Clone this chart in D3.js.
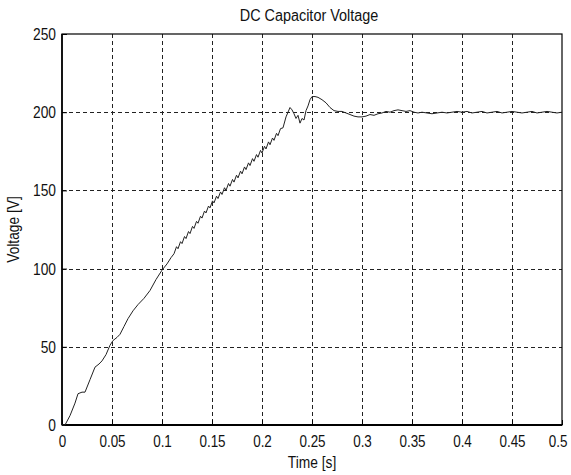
<!DOCTYPE html>
<html>
<head>
<meta charset="utf-8">
<script src="https://cdn.jsdelivr.net/npm/d3@7"></script>
<style>
  html, body { margin: 0; padding: 0; background: #ffffff; }
  svg { display: block; }
  text { font-family: "Liberation Sans", Arial, sans-serif; fill: #111; }
</style>
</head>
<body>
<svg id="chart" width="571" height="475"></svg>
<script>
const chartTitle = "DC Capacitor Voltage";
const xLabel = "Time [s]";
const yLabel = "Voltage [V]";
const xTicks = [0, 0.05, 0.1, 0.15, 0.2, 0.25, 0.3, 0.35, 0.4, 0.45, 0.5];
const yTicks = [0, 50, 100, 150, 200, 250];

const timeS = [
  0, 0.003, 0.008, 0.013, 0.016, 0.020, 0.023, 0.028, 0.033, 0.037, 0.040, 0.044, 0.048, 0.051, 0.055,
  0.058, 0.062, 0.066, 0.071, 0.076, 0.082, 0.088, 0.094, 0.100, 0.105, 0.109,
  0.112, 0.1145, 0.116, 0.1185, 0.120, 0.1225, 0.124, 0.1265, 0.128, 0.1305, 0.132, 0.1345,
  0.136, 0.1385, 0.140, 0.1425, 0.144, 0.1465, 0.148, 0.1505, 0.152, 0.1545, 0.156, 0.1585,
  0.160, 0.1625, 0.164, 0.1665, 0.168, 0.1705, 0.172, 0.1745, 0.176, 0.1785, 0.180, 0.1825,
  0.184, 0.1865, 0.188, 0.1905, 0.192, 0.1945, 0.196, 0.1985, 0.200, 0.2025, 0.204, 0.2065,
  0.208, 0.2105, 0.212, 0.2145, 0.216, 0.2185,
  0.221, 0.224, 0.226, 0.228, 0.230, 0.232, 0.234, 0.236, 0.238, 0.240, 0.242, 0.244, 0.246, 0.248,
  0.250, 0.253, 0.256, 0.260, 0.264, 0.268, 0.272, 0.276, 0.280, 0.284, 0.288, 0.292, 0.296, 0.300,
  0.304, 0.308, 0.312, 0.316, 0.320, 0.324, 0.328, 0.332, 0.336, 0.340, 0.344, 0.348, 0.352, 0.356,
  0.360, 0.365, 0.370, 0.375, 0.380, 0.385, 0.390, 0.395, 0.400, 0.405, 0.410, 0.415, 0.420, 0.425,
  0.430, 0.435, 0.440, 0.445, 0.450, 0.455, 0.460, 0.465, 0.470, 0.475, 0.480, 0.485, 0.490, 0.495, 0.500
];
const voltage = [
  0, 0, 6, 14, 20, 21, 21, 29, 37, 39, 41, 45, 51, 54, 56,
  58, 63, 68, 73, 77, 81, 86, 93, 99, 103, 107,
  109.5, 114, 112.7, 117.2, 116, 120.5, 119.2, 123.7, 122.4, 127, 125.7, 130.2,
  129, 133.5, 132.3, 136.8, 135.6, 140, 138.8, 143.3, 142, 146.3, 144.8, 149,
  147.4, 151.7, 150, 154.4, 152.7, 157, 155.3, 159.7, 158, 162.3, 160.6, 165,
  163.3, 167.6, 165.9, 170.3, 168.6, 172.9, 171.2, 175.6, 173.9, 178.2, 176.5, 181,
  179.2, 183.5, 182, 186.5, 185, 189.5,
  190, 197, 200, 203, 201.5, 199, 196, 198, 193, 196, 195, 201, 204, 208,
  210, 210, 209.5, 208, 206, 203, 201, 200.5, 200.5, 199.5, 198.5, 197.5, 197, 197,
  197.5, 198.5, 198, 199, 199.5, 200.5, 200, 201, 201.5, 201, 200.5, 201, 200, 199.5,
  200, 199.5, 199, 199.5, 200, 199.5, 200, 200.5, 200, 200.5, 199.5, 200, 200.5, 199.5,
  200, 200.5, 199.5, 200, 200.5, 200, 199.5, 200, 200.5, 199.5, 200, 200.5, 200, 199.5, 200
];

const margin = { left: 62, top: 34, right: 9, bottom: 50 };
const W = 571, H = 475;
const svg = d3.select("#chart");

const x = d3.scaleLinear().domain([0, 0.5]).range([margin.left, W - margin.right]);
const y = d3.scaleLinear().domain([0, 250]).range([H - margin.bottom, margin.top]);

// condensed look: shrink glyph widths of a text node
function condense(sel, factor) {
  sel.each(function () {
    const w = this.getComputedTextLength();
    if (w > 0) {
      d3.select(this).attr("textLength", w * factor).attr("lengthAdjust", "spacingAndGlyphs");
    }
  });
}

// grid
const grid = svg.append("g").attr("stroke", "#222").attr("stroke-width", 1).attr("stroke-dasharray", "4,3");
grid.selectAll("line.vx").data(xTicks.slice(1, -1)).enter().append("line")
  .attr("x1", d => Math.round(x(d)) + 0.5).attr("x2", d => Math.round(x(d)) + 0.5)
  .attr("y1", y(250)).attr("y2", y(0));
grid.selectAll("line.hy").data(yTicks.slice(1, -1)).enter().append("line")
  .attr("x1", x(0)).attr("x2", x(0.5))
  .attr("y1", d => Math.round(y(d)) + 0.5).attr("y2", d => Math.round(y(d)) + 0.5);

// axes (ticks inward)
const fmtX = d => d === 0 ? "0" : String(d);
const xAxis = d3.axisBottom(x).tickValues(xTicks).tickFormat(fmtX).tickSizeInner(-5).tickSizeOuter(0);
const yAxis = d3.axisLeft(y).tickValues(yTicks).tickFormat(d3.format("d")).tickSizeInner(-5).tickSizeOuter(0).tickPadding(6);

const gx = svg.append("g").attr("transform", `translate(0,${y(0)})`).call(xAxis);
const gy = svg.append("g").attr("transform", `translate(${x(0)},0)`).call(yAxis);
[gx, gy].forEach(g => {
  g.select(".domain").remove();
  g.selectAll(".tick line").attr("stroke", "#000");
  g.selectAll(".tick text").attr("font-size", 16).attr("fill", "#111")
    .style("font-family", '"Liberation Sans", Arial, sans-serif');
});
gx.selectAll(".tick text").attr("dy", null).attr("y", 22);
gy.selectAll(".tick text").attr("dy", "0.34em");
condense(gx.selectAll(".tick text"), 0.84);
condense(gy.selectAll(".tick text"), 0.86);
// keep the last x label inside the page
gx.selectAll(".tick text").filter(d => d === 0.5).attr("text-anchor", "end").attr("x", 5);

// box
svg.append("rect")
  .attr("x", x(0)).attr("y", y(250))
  .attr("width", x(0.5) - x(0)).attr("height", y(0) - y(250))
  .attr("fill", "none").attr("stroke", "#000").attr("stroke-width", 1.2);
svg.append("line").attr("x1", x(0)).attr("x2", x(0.5)).attr("y1", y(0)).attr("y2", y(0))
  .attr("stroke", "#000").attr("stroke-width", 2);
svg.append("line").attr("x1", x(0)).attr("x2", x(0)).attr("y1", y(0)).attr("y2", y(250))
  .attr("stroke", "#000").attr("stroke-width", 1.6);

// data line
const pts = timeS.map((t, i) => [t, voltage[i]]);
const line = d3.line().x(d => x(d[0])).y(d => y(d[1]));
svg.append("path").datum(pts)
  .attr("d", line).attr("fill", "none").attr("stroke", "#222").attr("stroke-width", 1);

// labels
const t1 = svg.append("text").attr("x", 309).attr("y", 21).attr("text-anchor", "middle")
  .attr("font-size", 16).text(chartTitle);
const t2 = svg.append("text").attr("x", (x(0) + x(0.5)) / 2).attr("y", 468).attr("text-anchor", "middle")
  .attr("font-size", 16).text(xLabel);
const t3 = svg.append("text").attr("transform", `translate(19,${(y(0) + y(250)) / 2}) rotate(-90)`)
  .attr("text-anchor", "middle").attr("font-size", 16).text(yLabel);
condense(t1, 0.9);
condense(t2, 0.86);
condense(t3, 0.86);
</script>
</body>
</html>
